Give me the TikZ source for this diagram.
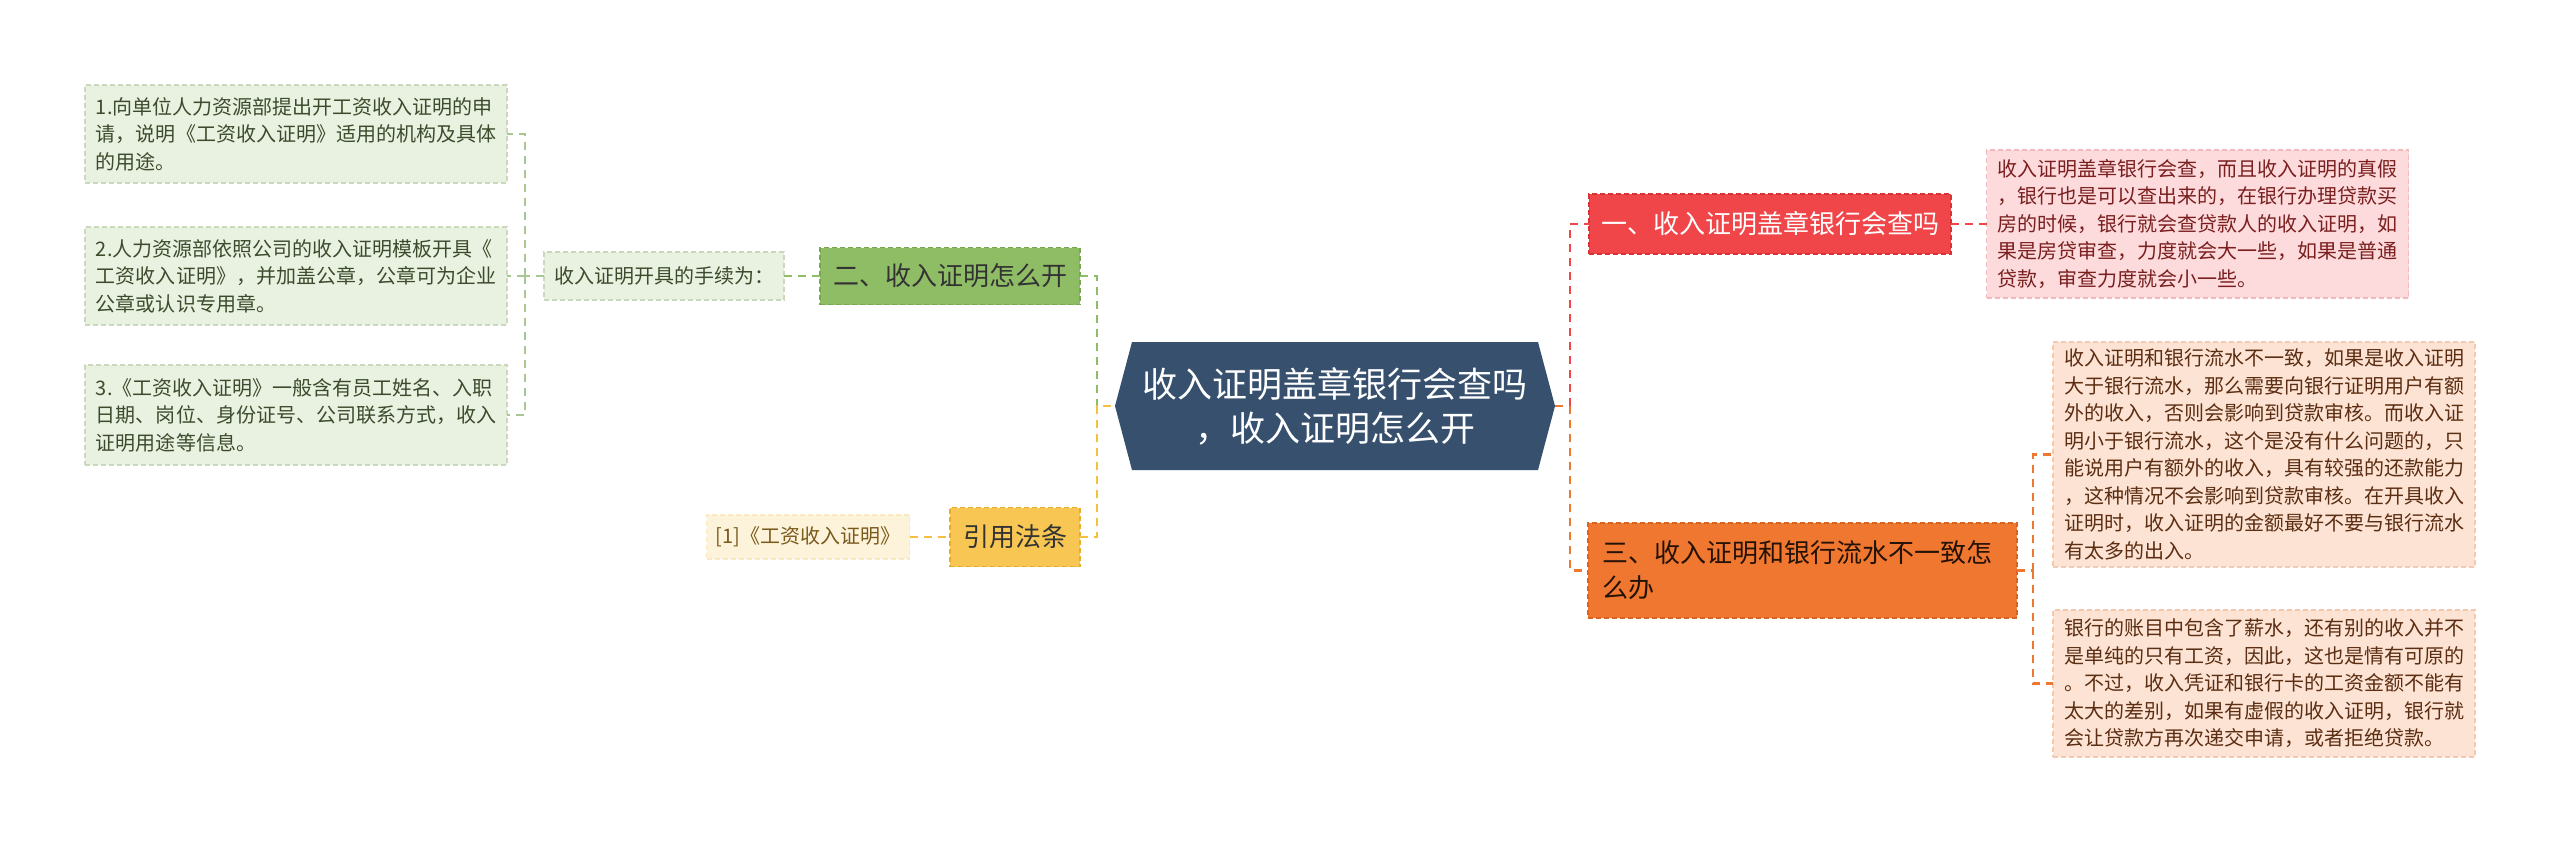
\documentclass[tikz,border=0pt]{standalone}
\usepackage{fontspec}
\newfontfamily\cjk{Noto Sans CJK SC}
\usetikzlibrary{backgrounds}
\definecolor{hexfill}{HTML}{36506E}
\definecolor{gfill}{HTML}{8FBD66}
\definecolor{gborder}{HTML}{79A752}
\definecolor{lgfill}{HTML}{E9F1E1}
\definecolor{lgborder}{HTML}{CAD9BC}
\definecolor{lgtext}{HTML}{3C4B2C}
\definecolor{lgconn}{HTML}{A9C792}
\definecolor{yfill}{HTML}{F8C652}
\definecolor{yborder}{HTML}{E6AE2E}
\definecolor{ylfill}{HTML}{FDF2DA}
\definecolor{yltext}{HTML}{7A5A1A}
\definecolor{yconn}{HTML}{F5C042}
\definecolor{rfill}{HTML}{F04649}
\definecolor{rborder}{HTML}{D83434}
\definecolor{rlfill}{HTML}{FDDADB}
\definecolor{rlborder}{HTML}{F2BABA}
\definecolor{rltext}{HTML}{7A1F1F}
\definecolor{ofill}{HTML}{F0772F}
\definecolor{oborder}{HTML}{DC6420}
\definecolor{olfill}{HTML}{FDE3D3}
\definecolor{olborder}{HTML}{F4C9AE}
\definecolor{oltext}{HTML}{5B2D12}
\begin{document}
\begin{tikzpicture}[x=1bp,y=-1bp,
  every node/.style={inner sep=0pt, outer sep=0pt},
  box/.style={draw, dash pattern=on 5bp off 3bp, line width=1.2bp},
  conn/.style={line width=2.2bp, dash pattern=on 8bp off 6bp},
  leaf/.style={box, minimum width=422bp, inner xsep=11bp, text width=400bp, align=left,
    font=\cjk\fontsize{20bp}{27.5bp}\selectfont},
  leafg/.style={leaf, fill=lgfill, draw=lgborder, text=lgtext},
  leafr/.style={leaf, fill=rlfill, draw=rlborder, text=rltext},
  leafo/.style={leaf, fill=olfill, draw=olborder, text=oltext},
  topic/.style={box, align=center, font=\cjk\fontsize{26bp}{35bp}\selectfont},
]
\useasboundingbox (0,0) rectangle (2560,846);

% central
\node (c) [minimum width=440bp, minimum height=128bp, text=white, align=center,
  font=\cjk\fontsize{35bp}{44bp}\selectfont] at (1335,406)
  {收入证明盖章银行会查吗\\，收入证明怎么开};
\begin{scope}[on background layer]
\fill[white] (0,0) rectangle (2560,846);
\fill[hexfill] (c.west) -- ([xshift=17bp]c.north west) -- ([xshift=-17bp]c.north east)
  -- (c.east) -- ([xshift=-17bp]c.south east) -- ([xshift=17bp]c.south west) -- cycle;
\end{scope}

% left: green branch
\node (g) [topic, fill=gfill, draw=gborder, text=black!80, minimum width=260bp, minimum height=57bp] at (950,276) {二、收入证明怎么开};
\node (m) [box, fill=lgfill, draw=lgborder, text=lgtext, minimum width=240bp, minimum height=48bp,
  font=\cjk\fontsize{20bp}{27.5bp}\selectfont] at (664,276) {收入证明开具的手续为：};
\node (l1) [leafg, minimum height=98bp] at (296,134)
  {1.向单位人力资源部提出开工资收入证明的申\\请，说明《工资收入证明》适用的机构及具体\\的用途。};
\node (l2) [leafg, minimum height=98bp] at (296,276)
  {2.人力资源部依照公司的收入证明模板开具《\\工资收入证明》，并加盖公章，公章可为企业\\公章或认识专用章。};
\node (l3) [leafg, minimum height=100bp] at (296,415)
  {3.《工资收入证明》一般含有员工姓名、入职\\日期、岗位、身份证号、公司联系方式，收入\\证明用途等信息。};

% left: yellow branch
\node (y) [topic, fill=yfill, draw=yborder, text=black!80, minimum width=130bp, minimum height=59bp] at (1015,537) {引用法条};
\node (yl) [box, fill=ylfill, draw=ylfill!85!yborder, text=yltext, minimum width=203bp, minimum height=44bp,
  font=\cjk\fontsize{20bp}{27.5bp}\selectfont] at (808,537) {[1]《工资收入证明》};

% right: red branch
\node (r) [topic, fill=rfill, draw=rborder, text=white, minimum width=362bp, minimum height=60bp] at (1770,224) {一、收入证明盖章银行会查吗};
\node (rl) [leafr, minimum height=148bp] at (2197.5,224)
  {收入证明盖章银行会查，而且收入证明的真假\\，银行也是可以查出来的，在银行办理贷款买\\房的时候，银行就会查贷款人的收入证明，如\\果是房贷审查，力度就会大一些，如果是普通\\贷款，审查力度就会小一些。};

% right: orange branch
\node (o) [box, fill=ofill, draw=oborder, text=black!85!ofill, minimum width=429bp, minimum height=95bp,
  inner xsep=14bp, text width=401bp, align=left, font=\cjk\fontsize{26bp}{35bp}\selectfont] at (1802.5,570.5)
  {三、收入证明和银行流水不一致怎\\么办};
\node (oa) [leafo, minimum height=225bp] at (2264,454.5)
  {收入证明和银行流水不一致，如果是收入证明\\大于银行流水，那么需要向银行证明用户有额\\外的收入，否则会影响到贷款审核。而收入证\\明小于银行流水，这个是没有什么问题的，只\\能说用户有额外的收入，具有较强的还款能力\\，这种情况不会影响到贷款审核。在开具收入\\证明时，收入证明的金额最好不要与银行流水\\有太多的出入。};
\node (ob) [leafo, minimum height=147bp] at (2264,683.5)
  {银行的账目中包含了薪水，还有别的收入并不\\是单纯的只有工资，因此，这也是情有可原的\\。不过，收入凭证和银行卡的工资金额不能有\\太大的差别，如果有虚假的收入证明，银行就\\会让贷款方再次递交申请，或者拒绝贷款。};

% junctions
\coordinate (jl) at (525,276);
\coordinate (jc) at (1097,406);
\coordinate (jr) at (1570,406);
\coordinate (jo) at (2033,570.5);

% connectors
\draw[conn, draw=lgconn] (m.west) -- (jl);
\draw[conn, draw=lgconn] (jl) |- (l1.east);
\draw[conn, draw=lgconn] (jl) -- (l2.east);
\draw[conn, draw=lgconn] (jl) |- (l3.east);
\draw[conn, draw=gfill] (g.west) -- (m.east);
\draw[conn, draw=gfill] (g.east) -| (jc);
\draw[conn, draw=yconn] (y.east) -| (jc) -- (c.west);
\draw[conn, draw=yconn] (yl.east) -- (y.west);
\draw[conn, draw=ofill] (c.east) -- (jr);
\draw[conn, draw=rfill] (jr) |- (r.west);
\draw[conn, draw=ofill] (jr) |- (o.west);
\draw[conn, draw=rfill] (r.east) -- (rl.west);
\draw[conn, draw=ofill] (o.east) -- (jo);
\draw[conn, draw=ofill] (jo) |- (oa.west);
\draw[conn, draw=ofill] (jo) |- (ob.west);
\end{tikzpicture}
\end{document}
